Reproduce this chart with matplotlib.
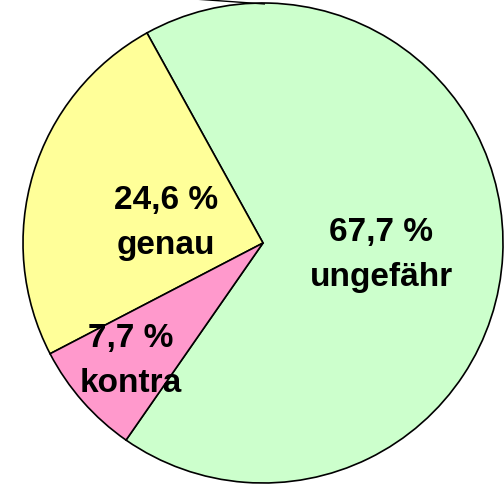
import matplotlib.pyplot as plt

# Anteile in Prozent
labels = ["ungefähr", "genau", "kontra"]
values = [67.7, 24.6, 7.7]
colors = ["#CCFFCC", "#FFFF99", "#FF99CC"]

plt.rcParams['font.family'] = ['Liberation Sans', 'DejaVu Sans']

fig = plt.figure(figsize=(5.04, 4.85), dpi=100)
ax = fig.add_axes([0, 0, 1, 1])
ax.set_aspect('equal')
ax.axis('off')

ax.pie(values, colors=colors, startangle=235.2, counterclock=True,
       center=(263, 241), radius=240,
       wedgeprops=dict(edgecolor='black', linewidth=1.2))
ax.set_xlim(0, 504)
ax.set_ylim(0, 485)

# Beschriftungen
pos = [(381, 230), (166, 262), (131, 124)]
for (x, y), lab, v in zip(pos, labels, values):
    txt = ("%.1f %%" % v).replace('.', ',') + "\n" + lab
    ax.text(x, y, txt, ha='center', va='center', fontsize=24,
            fontweight='bold', linespacing=1.55)

# Linie oben (Führungslinie nach außen)
ax.plot([180, 265], [486, 480], color='black', linewidth=1.0,
        solid_capstyle='butt', clip_on=False)

fig.savefig("out.png", dpi=100)
